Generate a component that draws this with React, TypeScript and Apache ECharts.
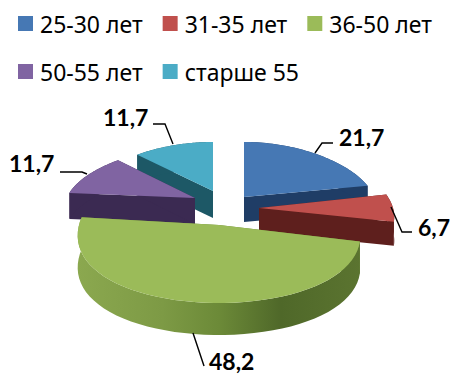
import React, { useEffect, useRef } from "react";
import * as echarts from "echarts";

const categories = ["25-30 лет", "31-35 лет", "36-50 лет", "50-55 лет", "старше 55"];
const values = [21.7, 6.7, 48.2, 11.7, 11.7];
const valueLabels = ["21,7", "6,7", "48,2", "11,7", "11,7"];
const topColors = ["#4678b4", "#c0504d", "#9bbb59", "#8064a2", "#4bacc6"];
const sideColors = ["#1f3d66", "#5e1f1d", "#6d8a38", "#3b2a52", "#1d5866"];

const geometry = [
  { ax: 244, ay: 197, rx: 130, ry: 55, depth: 25 },
  { ax: 259, ay: 208, rx: 134, ry: 65, depth: 24 },
  { ax: 219, ay: 225, rx: 140, ry: 78, depth: 32 },
  { ax: 195, ay: 198, rx: 128, ry: 51, depth: 26 },
  { ax: 213, ay: 191, rx: 126, ry: 49, depth: 27 },
];
const leaders = [
  { line: [[315, 153], [322, 143], [333, 143]], x: 339, y: 137 },
  { line: [[391, 207], [402, 232], [412, 232]], x: 418, y: 227 },
  { line: [[193, 333], [204, 366]], x: 209, y: 361 },
  { line: [[60, 172], [82, 172], [87, 174]], x: 9, y: 163 },
  { line: [[153, 124], [165, 124], [173, 144]], x: 103, y: 117 },
];
const PERSPECTIVE = 0.14;
const drawOrder = [4, 0, 3, 1, 2];
const total = values.reduce((a, b) => a + b, 0);

function renderSlice(index: number) {
  return (_params: any, api: any) => {
    const v = api.value(0);
    const before = values.slice(0, index).reduce((a, b) => a + b, 0);
    const start = (before / total) * Math.PI * 2;
    const end = ((before + v) / total) * Math.PI * 2;
    const g = geometry[index];
    const project = (a: number): number[] => {
      const depthAxis = -Math.cos(a);
      return [
        g.ax + g.rx * Math.sin(a) * (1 + PERSPECTIVE * depthAxis),
        g.ay + g.ry * depthAxis,
      ];
    };
    const arc: number[][] = [];
    const steps = 48;
    for (let i = 0; i <= steps; i++) arc.push(project(start + ((end - start) * i) / steps));
    const apex = [g.ax, g.ay];
    const down = (p: number[]) => [p[0], p[1] + g.depth];
    const side = sideColors[index];
    const wallFill =
      index === 2
        ? new echarts.graphic.LinearGradient(0, 0, 1, 0, [
            { offset: 0, color: "#8ba84f" },
            { offset: 0.3, color: "#7d9a45" },
            { offset: 0.5, color: "#6c8a38" },
            { offset: 0.72, color: "#4f6829" },
            { offset: 1, color: "#5b7430" },
          ])
        : side;
    const quad = (a: number[], b: number[]) => ({
      type: "polygon",
      shape: { points: [a, b, down(b), down(a)] },
      style: { fill: side },
    });
    const item = leaders[index];
    return {
      type: "group",
      children: [
        quad(apex, arc[0]),
        quad(apex, arc[arc.length - 1]),
        {
          type: "polygon",
          shape: { points: [...arc, ...arc.map(down).reverse()] },
          style: { fill: wallFill },
        },
        { type: "polygon", shape: { points: [apex, ...arc] }, style: { fill: topColors[index] } },
        {
          type: "polyline",
          z2: 20,
          shape: { points: item.line },
          style: { stroke: "#000000", lineWidth: 1.4, fill: "none" },
        },
        {
          type: "text",
          z2: 20,
          x: item.x,
          y: item.y,
          style: {
            text: valueLabels[index],
            fill: "#000000",
            font: 'bold 23px Lato, "Noto Sans", sans-serif',
            verticalAlign: "middle",
          },
        },
      ],
    };
  };
}

export default function App() {
  const ref = useRef<HTMLDivElement>(null);
  useEffect(() => {
    const chart = echarts.init(ref.current!, null, { renderer: "svg" });
    const legendBase = {
      left: 18,
      orient: "horizontal" as const,
      icon: "rect",
      itemWidth: 15,
      itemHeight: 15,
      itemGap: 20,
      padding: 0,
      selectedMode: false,
      textStyle: {
        color: "#000000",
        fontFamily: '"Noto Sans", sans-serif',
        fontSize: 23,
        padding: [0, 0, 0, 2],
      },
    };
    chart.setOption({
      animation: false,
      color: topColors,
      backgroundColor: "#ffffff",
      legend: [
        { ...legendBase, top: 12, data: categories.slice(0, 3) },
        { ...legendBase, top: 60, data: categories.slice(3) },
      ],
      series: drawOrder.map((index, order) => ({
        type: "custom",
        name: categories[index],
        coordinateSystem: "none",
        silent: true,
        z: order + 2,
        itemStyle: { color: topColors[index] },
        data: [[values[index]]],
        renderItem: renderSlice(index),
      })),
    });
    return () => chart.dispose();
  }, []);
  return (
    <div
      ref={ref}
      style={{ position: "absolute", left: 0, top: 0, width: 451, height: 374 }}
    />
  );
}
